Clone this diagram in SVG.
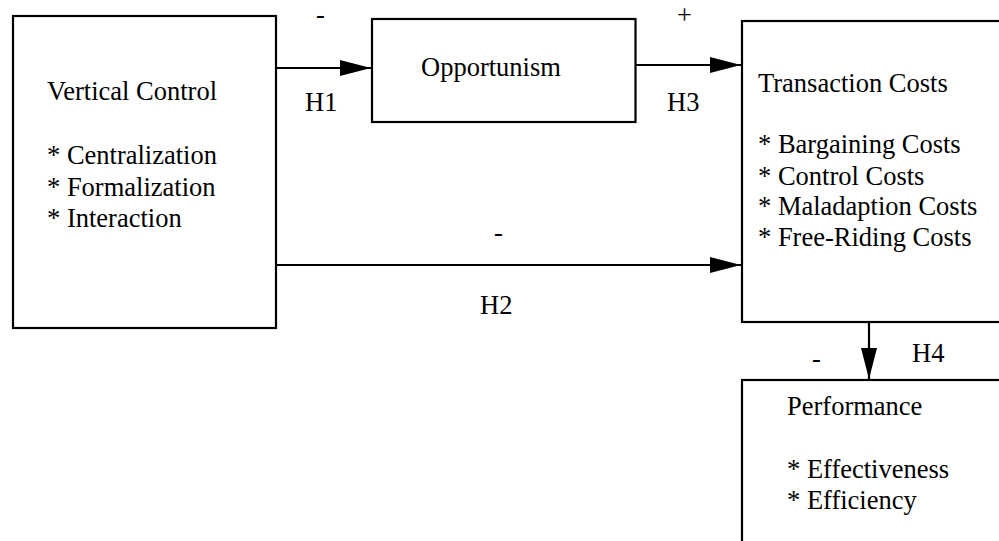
<svg xmlns="http://www.w3.org/2000/svg" width="999" height="541" viewBox="0 0 999 541">
  <style>
    .box { fill: #ffffff; stroke: #000000; stroke-width: 2.2; }
    text { font-family: 'Liberation Serif', 'DejaVu Serif', 'Times New Roman', serif; font-size: 26.5px; fill: #000000; }
    .edge { stroke: #000000; stroke-width: 2.2; fill: none; }
  </style>
  <defs>
    <marker id="arrow" markerUnits="userSpaceOnUse" markerWidth="32" markerHeight="18" refX="31" refY="8" orient="auto">
      <path d="M0,0 L31,8 L0,16 Z" fill="#000000"/>
    </marker>
  </defs>
  <rect width="999" height="541" fill="#ffffff"/>

  <g id="vertical-control">
    <rect class="box" x="13" y="16" width="263" height="312"/>
    <text x="47" y="100">Vertical Control</text>
    <text x="47" y="164">* Centralization</text>
    <text x="47" y="195.5">* Formalization</text>
    <text x="47" y="227">* Interaction</text>
  </g>

  <g id="opportunism">
    <rect class="box" x="372" y="19" width="263.5" height="103"/>
    <text x="421" y="76">Opportunism</text>
  </g>

  <g id="transaction-costs">
    <rect class="box" x="742" y="21" width="280" height="301"/>
    <text x="758" y="91.5">Transaction Costs</text>
    <text x="758" y="153">* Bargaining Costs</text>
    <text x="758" y="184.5">* Control Costs</text>
    <text x="758" y="215">* Maladaption Costs</text>
    <text x="758" y="245.5">* Free-Riding Costs</text>
  </g>

  <g id="performance">
    <rect class="box" x="742" y="380" width="280" height="200"/>
    <text x="787" y="415">Performance</text>
    <text x="787" y="477.5">* Effectiveness</text>
    <text x="787" y="508.5">* Efficiency</text>
  </g>

  <g id="connectors">
    <line class="edge" x1="276" y1="68" x2="371" y2="68" marker-end="url(#arrow)"/>
    <line class="edge" x1="635.5" y1="65" x2="741" y2="65" marker-end="url(#arrow)"/>
    <line class="edge" x1="276" y1="265" x2="741" y2="265" marker-end="url(#arrow)"/>
    <line class="edge" x1="869" y1="322" x2="869" y2="379" marker-end="url(#arrow)"/>
    <text x="316" y="23">-</text>
    <text x="305" y="111">H1</text>
    <text x="677" y="24">+</text>
    <text x="667" y="111">H3</text>
    <text x="494" y="241">-</text>
    <text x="480" y="314">H2</text>
    <text x="812" y="367">-</text>
    <text x="912" y="362">H4</text>
  </g>
</svg>
